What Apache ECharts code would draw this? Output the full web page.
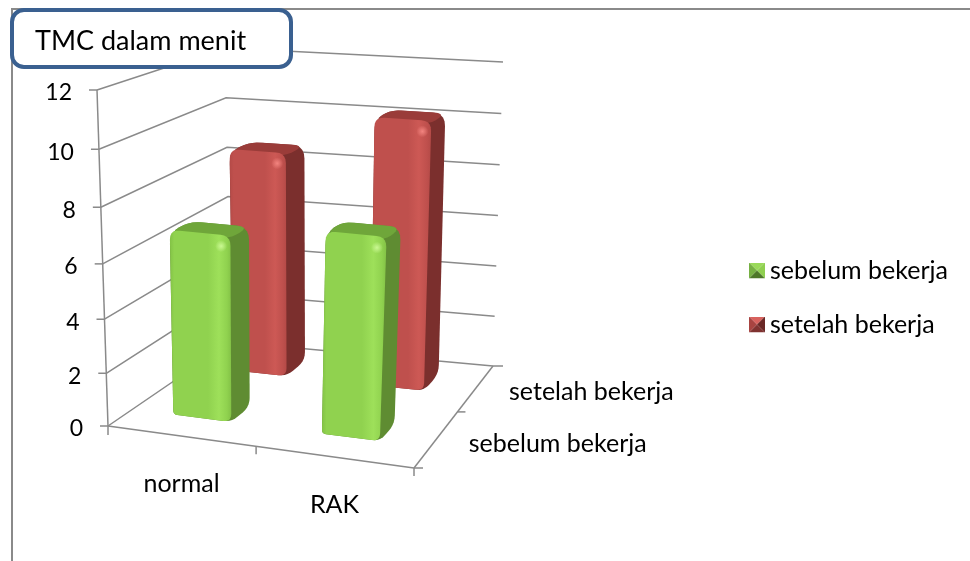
<!DOCTYPE html>
<html style="height: 100%">
<head>
  <meta charset="utf-8" />
  <title>TMC dalam menit</title>
  <script src="https://cdn.jsdelivr.net/npm/echarts@6/dist/echarts.min.js"></script>
</head>
<body style="height: 100%; margin: 0; background: #fff">
  <div id="chart" style="width: 970px; height: 561px"></div>
  <script>
    const chartTitle = 'TMC dalam menit';
    const categories = ['normal', 'RAK'];
    const seriesNames = ['sebelum bekerja', 'setelah bekerja'];
    const sebelum = [6.8, 7.3];
    const setelah = [8.6, 10.2];
    const yTicks = [0, 2, 4, 6, 8, 10, 12];

    const font = 'Lato';
    const GRID = { left: 100, top: 100, width: 300, height: 300 };

    // screen corners of the 3D box, [front-left, front-right, back-left, back-right]
    const floorCorners = [[108, 426], [414, 468], [231, 342], [493, 366]];
    const topCorners = [[97, 90], [431, 118], [225, 48], [503, 62]];

    // depth position of each series, and bar sizes in box units
    const depthPos = [0.285, 0.795];
    const barHalfU = 0.0975, barHalfW = 0.085, barShiftU = -0.0155;

    const greenFace = { base: '#90d24f', light: '#9ee05a', dark: '#83c246', side: '#5f8c32', top: '#6fa63a', spot: 'rgba(205,250,150,0.95)', spotEnd: 'rgba(205,250,150,0)' };
    const redFace = { base: '#bf504d', light: '#cd5955', dark: '#b44a47', side: '#7b2f2d', top: '#9a3c39', spot: 'rgba(245,135,130,0.95)', spotEnd: 'rgba(245,135,130,0)' };
    const greenIcon = ['#9ad95a', '#76b043', '#8fcf50', '#4d7728'];
    const redIcon = ['#d8625e', '#a84441', '#6a2826', '#7f3230'];

    function lerp(a, b, t) { return [a[0] + (b[0] - a[0]) * t, a[1] + (b[1] - a[1]) * t]; }

    function project(u, w, v) {
      // heights are a little squeezed near the floor, more so at the front
      const k = 0.07 * (1 - w) + 0.02 * w;
      const vv = v * (1 - k * (1 - v));
      const bottom = lerp(lerp(floorCorners[0], floorCorners[1], u), lerp(floorCorners[2], floorCorners[3], u), w);
      const top = lerp(lerp(topCorners[0], topCorners[1], u), lerp(topCorners[2], topCorners[3], u), w);
      return lerp(bottom, top, vv);
    }

    function unitCoord(api, cat, val) {
      const p = api.coord([cat, val]);
      return [(p[0] - GRID.left) / GRID.width, (GRID.top + GRID.height - p[1]) / GRID.height];
    }

    // radii: one corner radius per point
    function roundPoly(points, radii) {
      const out = [];
      const n = points.length;
      for (let i = 0; i < n; i++) {
        const prev = points[(i + n - 1) % n], cur = points[i], next = points[(i + 1) % n];
        const d1 = Math.hypot(prev[0] - cur[0], prev[1] - cur[1]);
        const d2 = Math.hypot(next[0] - cur[0], next[1] - cur[1]);
        const a = lerp(cur, prev, Math.min(radii[i] / d1, 0.5));
        const b = lerp(cur, next, Math.min(radii[i] / d2, 0.5));
        for (let t = 0; t <= 1.001; t += 0.2) {
          out.push(lerp(lerp(a, cur, t), lerp(cur, b, t), t));
        }
      }
      return out;
    }

    function hGrad(stops) {
      return new echarts.graphic.LinearGradient(0, 0, 1, 0, stops.map(c => ({ offset: c[0], color: c[1] })));
    }

    function barItem(colors, depthIdx) {
      return function (params, api) {
        const uv = unitCoord(api, api.value(0), api.value(1));
        const u0 = uv[0] + barShiftU - barHalfU, u1 = uv[0] + barShiftU + barHalfU;
        const w0 = depthPos[depthIdx] - barHalfW, w1 = depthPos[depthIdx] + barHalfW;
        const v = uv[1];
        const lift = (p) => [p[0], p[1] - 3];
        const front = [project(u0, w0, 0), project(u1, w0, 0), lift(project(u1, w0, v)), lift(project(u0, w0, v))];
        const outline = [project(u0, w0, 0), project(u1, w0, 0), project(u1, w1, 0), project(u1, w1, v), project(u0, w1, v), project(u0, w0, v)];
        const topFace = [project(u0, w0, v), project(u1, w0, v), project(u1, w1, v), project(u0, w1, v)];
        const spot = project(u1 - 0.03, w0, v - 0.025);
        return {
          type: 'group',
          children: [
            { type: 'polygon', shape: { points: roundPoly(outline, [4, 8, 9, 13, 13, 11]) }, style: { fill: colors.side } },
            { type: 'polygon', shape: { points: roundPoly(topFace, [11, 11, 11, 11]) }, style: { fill: colors.top } },
            {
              type: 'polygon',
              shape: { points: roundPoly(front, [4, 8, 10, 10]) },
              style: {
                fill: hGrad([[0, colors.dark], [0.07, colors.base], [0.62, colors.base], [0.8, colors.light], [0.93, colors.base], [1, colors.dark]])
              }
            },
            {
              type: 'circle',
              shape: { cx: spot[0], cy: spot[1], r: 6 },
              style: {
                fill: new echarts.graphic.RadialGradient(0.5, 0.5, 0.5, [
                  { offset: 0, color: colors.spot },
                  { offset: 1, color: colors.spotEnd }
                ])
              }
            }
          ]
        };
      };
    }

    const axisColor = '#8a8a8a';
    const lineStyle = { stroke: axisColor, lineWidth: 1.5, fill: null };

    function yTickItem(params, api) {
      const v = unitCoord(api, 0, api.value(0))[1];
      const a = project(0, 0, v), b = project(0, 1, v), c = project(1, 1, v);
      return {
        type: 'group',
        children: [
          { type: 'polyline', shape: { points: [a, b, c] }, style: lineStyle },
          { type: 'line', shape: { x1: a[0] - 8, y1: a[1], x2: a[0], y2: a[1] }, style: lineStyle },
          {
            type: 'text',
            style: {
              text: String(api.value(0)),
              x: a[0] - 25, y: a[1] + 3,
              align: 'right', verticalAlign: 'middle',
              font: '23px ' + font, fill: '#000'
            }
          }
        ]
      };
    }

    function categoryItem(params, api) {
      const u = unitCoord(api, api.value(0), 0)[0];
      const p = project(u, 0, 0);
      return {
        type: 'text',
        style: {
          text: categories[api.value(0)],
          x: p[0] - 3, y: p[1] + 47,
          align: 'center', verticalAlign: 'middle',
          font: '25px ' + font, fill: '#000'
        }
      };
    }

    function depthItem(params, api) {
      const p = project(1, depthPos[api.value(0)] - 0.035, 0);
      return {
        type: 'text',
        style: {
          text: seriesNames[api.value(0)],
          x: p[0] + 35, y: p[1] + 1,
          align: 'left', verticalAlign: 'middle',
          font: '25px ' + font, fill: '#000'
        }
      };
    }

    // the two floor edges with their small ticks, and the upright axis
    function floorItem(params, api) {
      const fl = project(0, 0, 0), fr = project(1, 0, 0), br = project(1, 1, 0), mid = project(0.484, 0, 0), side = project(1, 0.55, 0);
      const ft = project(0, 0, 1);
      const seg = (a, b) => ({ type: 'line', shape: { x1: a[0], y1: a[1], x2: b[0], y2: b[1] }, style: lineStyle });
      return {
        type: 'group',
        children: [
          seg(ft, fl), seg(fl, fr), seg(fr, br),
          seg(fl, [fl[0], fl[1] + 9]), seg(mid, [mid[0], mid[1] + 8]), seg(fr, [fr[0], fr[1] + 8]),
          seg(fr, [fr[0] + 9, fr[1]]), seg(side, [side[0] + 8, side[1]]), seg(br, [br[0] + 10, br[1]])
        ]
      };
    }

    function legendIcon(c) {
      const svg = '<svg xmlns="http://www.w3.org/2000/svg" width="16" height="16">' +
        '<path d="M0 0H16L8 8Z" fill="' + c[0] + '"/>' +
        '<path d="M0 0V16L8 8Z" fill="' + c[1] + '"/>' +
        '<path d="M16 0V16L8 8Z" fill="' + c[2] + '"/>' +
        '<path d="M0 16H16L8 8Z" fill="' + c[3] + '"/>' +
        '</svg>';
      return 'image://data:image/svg+xml;charset=utf-8,' + encodeURIComponent(svg);
    }

    const chart = echarts.init(document.getElementById('chart'));
    const frameSeries = (data, renderItem, z) => ({
      type: 'custom', coordinateSystem: 'cartesian2d', silent: true, clip: false, z: z,
      data: data, renderItem: renderItem, animation: false
    });

    chart.setOption({
      animation: false,
      backgroundColor: '#fff',
      title: {
        text: chartTitle, left: 12, top: 10,
        padding: [18, 45, 12, 23],
        backgroundColor: '#fff',
        borderColor: '#3a6090', borderWidth: 4, borderRadius: 12,
        textStyle: { fontFamily: font, fontSize: 27, fontWeight: 'normal', color: '#000' }
      },
      legend: {
        orient: 'vertical', left: 749, top: 258, padding: 0, itemGap: 29,
        itemWidth: 16, itemHeight: 16,
        textStyle: { fontFamily: font, fontSize: 25, color: '#000' },
        data: [
          { name: seriesNames[0], icon: legendIcon(greenIcon) },
          { name: seriesNames[1], icon: legendIcon(redIcon) }
        ]
      },
      grid: GRID,
      xAxis: { type: 'category', data: categories, show: false },
      yAxis: { type: 'value', min: 0, max: 12, interval: 2, show: false },
      graphic: [{
        type: 'polyline', silent: true, z: 0,
        shape: { points: [[12, 561], [12, 9], [970, 9]] },
        style: { stroke: '#8a8a8a', lineWidth: 2, fill: null }
      }],
      series: [
        frameSeries(yTicks.map(t => [t]), yTickItem, 1),
        frameSeries([[0]], floorItem, 1),
        frameSeries(categories.map((c, i) => [i]), categoryItem, 1),
        frameSeries(seriesNames.map((s, i) => [i]), depthItem, 1),
        {
          type: 'custom', name: seriesNames[1], coordinateSystem: 'cartesian2d', clip: false, z: 2,
          itemStyle: { color: redFace.base }, renderItem: barItem(redFace, 1),
          data: setelah.map((v, i) => [i, v])
        },
        {
          type: 'custom', name: seriesNames[0], coordinateSystem: 'cartesian2d', clip: false, z: 3,
          itemStyle: { color: greenFace.base }, renderItem: barItem(greenFace, 0),
          data: sebelum.map((v, i) => [i, v])
        }
      ]
    });
  </script>
</body>
</html>
